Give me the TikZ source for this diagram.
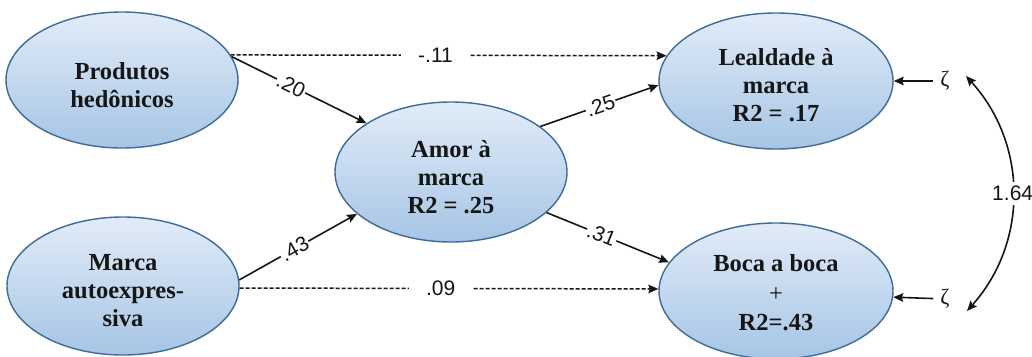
\documentclass[tikz,border=0pt]{standalone}
\usepackage{fontspec}
\setmainfont{Liberation Serif}
\setsansfont{Liberation Sans}
\usetikzlibrary{shapes.geometric,arrows.meta}
\definecolor{ebord}{HTML}{3D6B9A}
\definecolor{etop}{HTML}{E2ECF8}
\definecolor{ebot}{HTML}{A6C5E5}
\definecolor{txt}{HTML}{161616}
\begin{document}
\begin{tikzpicture}[x=1pt,y=-1pt,
  latent/.style={ellipse, draw=ebord, line width=1.4pt, top color=etop, bottom color=ebot,
    minimum width=232pt, minimum height=136pt, inner sep=0pt},
  ltext/.style={align=center, text=txt, inner sep=0pt,
    font=\bfseries\fontsize{24.5}{28}\selectfont},
  pathline/.style={draw=txt, line width=1.6pt, -{Stealth[length=10pt,width=8.5pt,inset=1.5pt]}},
  dashline/.style={pathline, line width=1.5pt, dash pattern=on 4pt off 2pt},
  coef/.style={font=\sffamily\fontsize{21}{22}\selectfont, fill=white, inner sep=1pt, text=txt},
  dcoef/.style={coef, inner xsep=17pt},
  zeta/.style={font=\fontsize{22}{22}\selectfont, inner sep=0pt, outer sep=7pt, text=txt}
]
\useasboundingbox[fill=white] (0,0) rectangle (1032,356);

\node[latent] (prod) at (122,80) {};
\node[latent, minimum height=138pt] (marca) at (123,286) {};
\node[latent, minimum height=140pt] (amor) at (451,172) {};
\node[latent, minimum width=234pt] (leal) at (776,81) {};
\node[latent, minimum width=234pt] (boca) at (776,291) {};

\node[ltext] (prodT) at ([yshift=-5pt]prod.center) {Produtos\\hedônicos};
\node[ltext] (marcaT) at ([yshift=-5pt]marca.center) {Marca\\autoexpres-\\siva};
\node[ltext] (amorT) at ([yshift=-5pt]amor.center) {Amor à\\marca\\R2 = .25};
\node[ltext] (lealT) at ([yshift=-4pt]leal.center) {Lealdade à\\marca\\R2 = .17};
\node[ltext] (bocaT) at ([yshift=-2pt]boca.center) {Boca a boca\\[2pt]{\mdseries +}\\[1pt]R2=.43};

\node[zeta] (z1) at (945,81) {ζ};
\node[zeta] (z2) at (945,299) {ζ};
\coordinate (c1) at (966,76);
\coordinate (c2) at (967,311);

\draw[dashline] (prod.13) -- node[dcoef,pos=0.47]{-.11} (leal.167);
\draw[pathline] (prod.12) -- node[coef,sloped,pos=0.44]{.20} (amor.150);
\draw[pathline] (amor.27) -- node[coef,sloped,pos=0.51]{.25} (leal.182);
\draw[pathline] (amor.-23) -- node[coef,sloped,pos=0.45]{.31} (boca.165);
\draw[pathline] (marca.3) -- node[coef,sloped,pos=0.47]{.43} (amor.204);
\draw[dashline] (marca.-1) -- node[dcoef,pos=0.48]{.09} (boca.179);

\draw[pathline] (z1) -- (leal.east);
\draw[pathline] (z2) -- (boca.-3);
\draw[pathline, {Stealth[length=10pt,width=8.5pt,inset=1.5pt]}-{Stealth[length=10pt,width=8.5pt,inset=1.5pt]}]
  (c1) to[bend left=42] node[coef, inner sep=4pt]{1.64} (c2);
\end{tikzpicture}
\end{document}
